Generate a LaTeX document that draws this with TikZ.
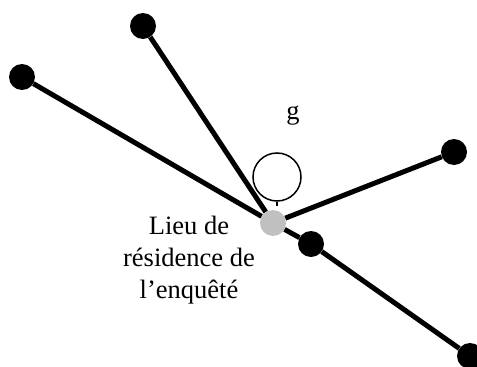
\documentclass[tikz,border=0pt]{standalone}
\usepackage{fontspec}
\setmainfont{Liberation Serif}
\usetikzlibrary{backgrounds}
\definecolor{egogray}{RGB}{192,192,192}
\begin{document}
\begin{tikzpicture}[x=1pt,y=-1pt,
  dot/.style={circle,fill=black,minimum size=26pt,inner sep=0pt},
  egodot/.style={circle,fill=egogray,minimum size=26pt,inner sep=0pt},
  edge/.style={line width=5pt},
  loopline/.style={line width=1.5pt},
  lbl/.style={font=\fontsize{26.5}{32}\selectfont,inner sep=0pt}]
\useasboundingbox (0,0) rectangle (477,367);
\node[egodot] (ego) at (273,223) {};
\node[dot] (a) at (22,77) {};
\node[dot] (b) at (143,26) {};
\node[dot] (c) at (454,152) {};
\node[dot] (m) at (311,244) {};
\node[dot] (d) at (470,356) {};
\node[circle,draw,loopline,minimum size=48pt,inner sep=0pt] (loop) at (277,177) {};
\coordinate (tick) at (277,206);
\node[lbl] (g) at (293,116) {g};
\node[lbl,align=center,anchor=base] (place) at (189,298) {Lieu de\\résidence de\\l’enquêté};
\begin{scope}[on background layer]
\draw[edge] (ego) -- (a);
\draw[edge] (ego) -- (b);
\draw[edge] (ego) -- (c);
\draw[edge] (ego) -- (m);
\draw[edge] (m) -- (d);
\draw[loopline] (loop.south) -- (tick);
\end{scope}
\end{tikzpicture}
\end{document}
